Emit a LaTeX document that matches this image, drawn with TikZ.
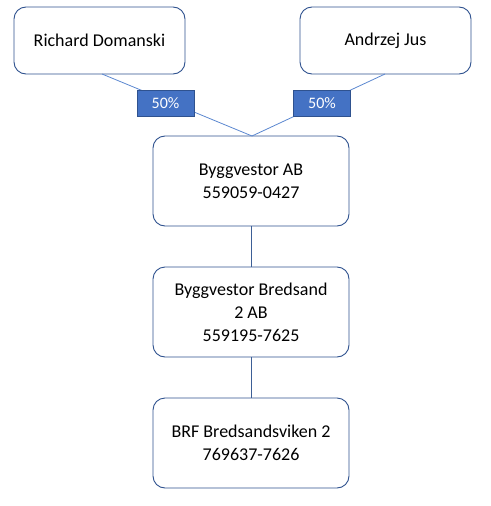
\documentclass[tikz,border=0pt]{standalone}
\usepackage{fontspec}
\setmainfont{Carlito}
\begin{document}
\begin{tikzpicture}[x=1pt,y=-1pt,
  box/.style={draw=boxborder, line width=0.9pt, rounded corners=12pt, fill=white, align=center, font=\fontsize{18}{23}\selectfont, inner sep=0pt},
  pct/.style={draw=pctborder, line width=0.8pt, fill=pctfill, text=white, font=\fontsize{16}{18}\selectfont, minimum width=57pt, minimum height=26pt, inner sep=0pt},
  diag/.style={draw=linecol, line width=0.8pt},
  vert/.style={draw=vertcol, line width=0.8pt}]
\definecolor{boxborder}{HTML}{2F528F}
\definecolor{pctborder}{HTML}{2F528F}
\definecolor{pctfill}{HTML}{4472C4}
\definecolor{linecol}{HTML}{5B87D0}
\definecolor{vertcol}{HTML}{3D5F96}
\useasboundingbox (0,0) rectangle (490,506);
% nodes
\node[box, minimum width=171pt, minimum height=67pt] (rd) at (99.5,40.5) {Richard Domanski};
\node[box, minimum width=171pt, minimum height=67pt] (aj) at (385.5,40.5) {Andrzej Jus};
\node[box, minimum width=196pt, minimum height=90pt] (ab) at (251,181) {Byggvestor AB\\559059-0427};
\node[box, minimum width=196pt, minimum height=90pt] (b2) at (251,312) {Byggvestor Bredsand\\2 AB\\559195-7625};
\node[box, minimum width=196pt, minimum height=90pt] (brf) at (251,443) {BRF Bredsandsviken 2\\769637-7626};
\coordinate (rdb) at (102,74);
\coordinate (ajb) at (385,74);
\coordinate (apex) at (252,136);
\draw[diag] (rdb) -- (apex);
\draw[diag] (ajb) -- (apex);
\draw[vert] (ab.south) -- (b2.north);
\draw[vert] (b2.south) -- (brf.north);
\node[pct] (p1) at (165.5,103) {50\%};
\node[pct] (p2) at (322,103) {50\%};
\end{tikzpicture}
\end{document}
